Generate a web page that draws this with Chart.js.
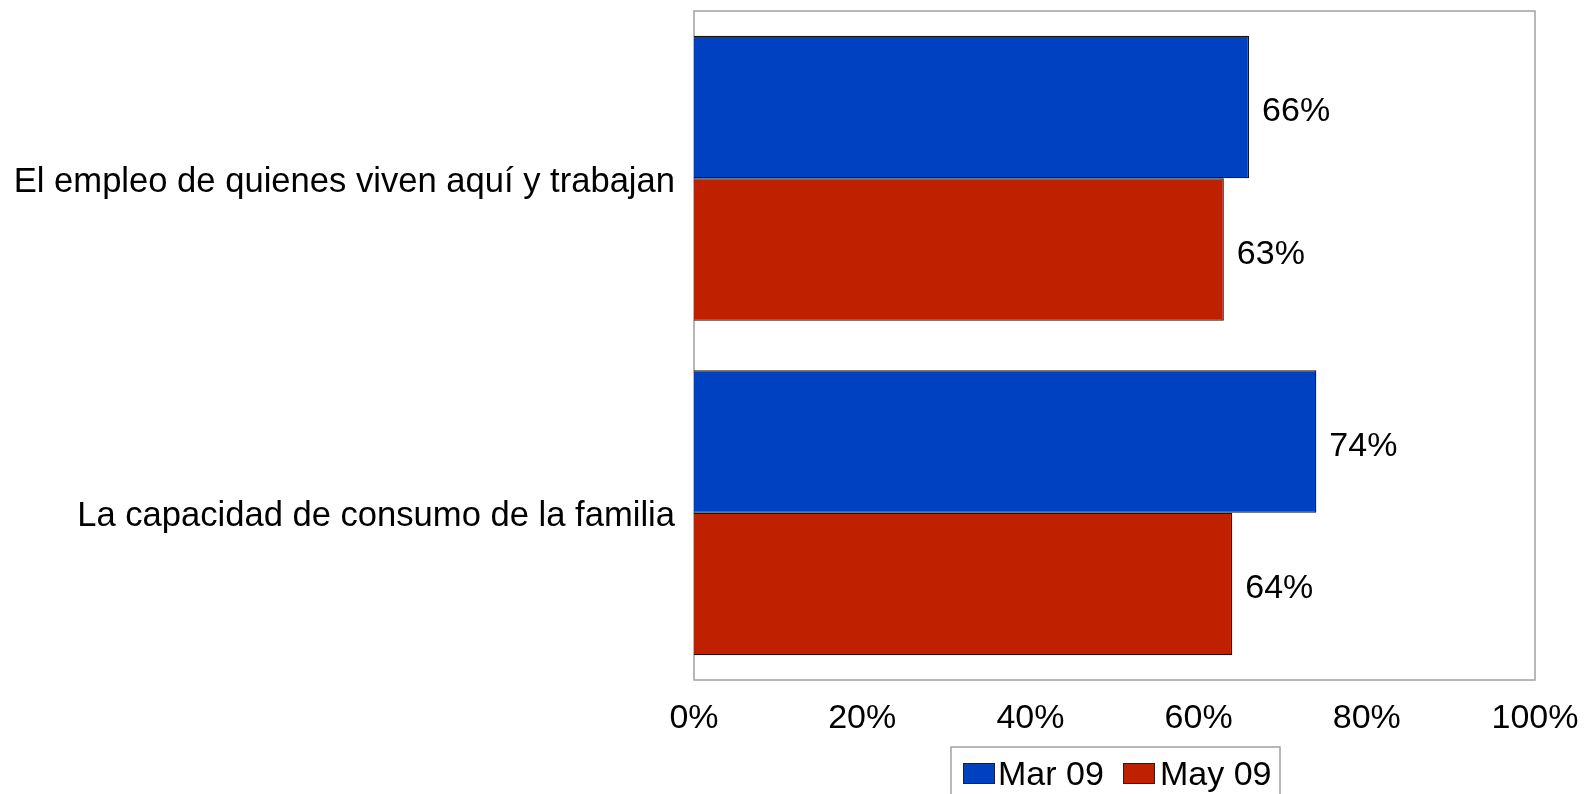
<!DOCTYPE html>
<html>
<head>
<meta charset="utf-8">
<script src="https://cdn.jsdelivr.net/npm/chart.js@4"></script>
<style>
html,body{margin:0;padding:0;background:#fff;}
#wrap{width:1587px;height:794px;position:relative;}
</style>
</head>
<body>
<div id="wrap"><canvas id="c" width="1587" height="794"></canvas></div>
<script>
const categories = ["El empleo de quienes viven aquí y trabajan", "La capacidad de consumo de la familia"];
const seriesNames = ["Mar 09", "May 09"];
const mar09 = [66, 74];
const may09 = [63, 64];
const xTicks = [0, 20, 40, 60, 80, 100];

const FONT = "'Liberation Sans', Arial, sans-serif";
const colors = ["#0041C1", "#BF2000"];

const frame = {
  id: 'frame',
  beforeDatasetsDraw(chart) {
    const a = chart.chartArea, ctx = chart.ctx;
    ctx.save();
    ctx.strokeStyle = '#a0a0a0';
    ctx.lineWidth = 1.5;
    ctx.strokeRect(a.left, a.top, a.right - a.left, a.bottom - a.top);
    ctx.restore();
  },
  afterDatasetsDraw(chart) {
    const ctx = chart.ctx;
    ctx.save();
    ctx.font = "34px " + FONT;
    ctx.fillStyle = '#000';
    ctx.textBaseline = 'middle';
    ctx.textAlign = 'left';
    chart.data.datasets.forEach((ds, i) => {
      const meta = chart.getDatasetMeta(i);
      meta.data.forEach((el, j) => {
        ctx.fillText(ds.data[j] + '%', el.x + 13, el.y + 5);
      });
    });
    // legend
    const lx = 951, ly = 747, lw = 329, lh = 60;
    ctx.strokeStyle = '#a0a0a0';
    ctx.lineWidth = 1.5;
    ctx.strokeRect(lx, ly, lw, lh);
    const items = [{x: 963, tx: 998}, {x: 1123, tx: 1160}];
    chart.data.datasets.forEach((ds, i) => {
      const it = items[i];
      ctx.fillStyle = ds.backgroundColor;
      ctx.fillRect(it.x, 763, 32, 21);
      ctx.strokeStyle = '#202020';
      ctx.lineWidth = 1;
      ctx.strokeRect(it.x + 0.5, 763.5, 31, 20);
      ctx.fillStyle = '#000';
      ctx.textBaseline = 'alphabetic';
      ctx.fillText(ds.label, it.tx, 785);
    });
    ctx.restore();
  }
};

function zeroPad(scale) {
  scale.paddingTop = 0; scale.paddingBottom = 0;
  scale.paddingLeft = 0; scale.paddingRight = 0;
}

new Chart(document.getElementById('c'), {
  type: 'bar',
  data: {
    labels: categories,
    datasets: [
      {label: seriesNames[0], data: mar09, backgroundColor: colors[0], borderColor: '#151515', borderWidth: 1.3},
      {label: seriesNames[1], data: may09, backgroundColor: colors[1], borderColor: '#151515', borderWidth: 1.3}
    ]
  },
  options: {
    indexAxis: 'y',
    responsive: false,
    animation: false,
    devicePixelRatio: 1,
    categoryPercentage: 0.852,
    barPercentage: 1,
    layout: {padding: {top: 11, right: 52, left: 0, bottom: 0}},
    plugins: {legend: {display: false}, tooltip: {enabled: false}},
    scales: {
      x: {
        min: 0, max: 100,
        afterBuildTicks(scale) { scale.ticks = xTicks.map(v => ({value: v})); },
        afterFit(scale) { scale.height = 114; zeroPad(scale); },
        grid: {display: false, drawTicks: false},
        border: {display: false},
        ticks: {
          color: '#000',
          font: {family: FONT, size: 34},
          padding: 18,
          maxRotation: 0,
          callback: v => v + '%'
        }
      },
      y: {
        afterFit(scale) { scale.width = 694; zeroPad(scale); },
        grid: {display: false, drawTicks: false},
        border: {display: false},
        ticks: {
          color: '#000',
          font: {family: FONT, size: 34.6},
          padding: 19,
          labelOffset: 4
        }
      }
    }
  },
  plugins: [frame]
});
</script>
</body>
</html>
